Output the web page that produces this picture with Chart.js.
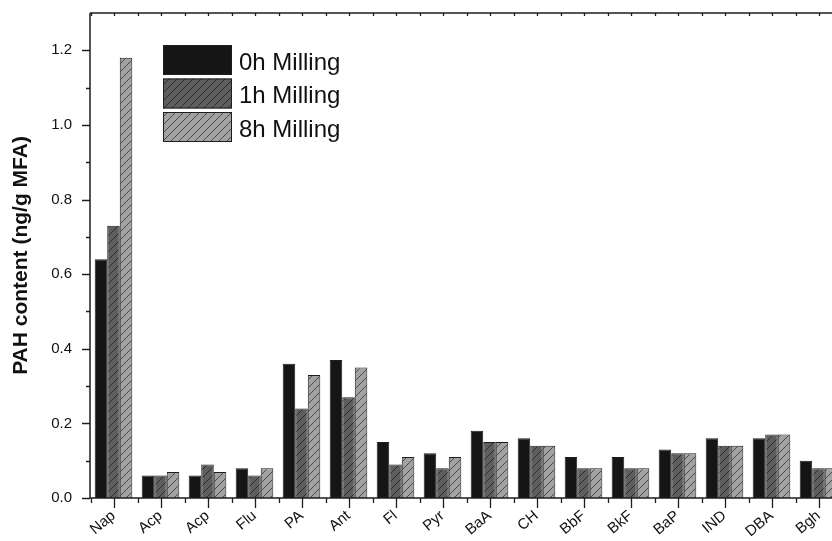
<!DOCTYPE html>
<html lang="en">
<head>
  <meta charset="UTF-8" />
  <title>PAH content after milling</title>
  <script src="https://cdn.jsdelivr.net/npm/chart.js"></script>
  <style>
    html, body {
      margin: 0;
      padding: 0;
      background: #fff;
      overflow: hidden;
    }
    .chart-box {
      width: 860px;
      height: 541px;
    }
  </style>
</head>
<body>
  <div class="chart-box">
    <canvas id="pahChart"></canvas>
  </div>

  <script>
    const categories = ['Nap', 'Acp', 'Acp', 'Flu', 'PA', 'Ant', 'Fl', 'Pyr', 'BaA', 'CH', 'BbF', 'BkF', 'BaP', 'IND', 'DBA', 'Bgh'];
    const milling0h = [0.64, 0.06, 0.06, 0.08, 0.36, 0.37, 0.15, 0.12, 0.18, 0.16, 0.11, 0.11, 0.13, 0.16, 0.16, 0.10];
    const milling1h = [0.73, 0.06, 0.09, 0.06, 0.24, 0.27, 0.09, 0.08, 0.15, 0.14, 0.08, 0.08, 0.12, 0.14, 0.17, 0.08];
    const milling8h = [1.18, 0.07, 0.07, 0.08, 0.33, 0.35, 0.11, 0.11, 0.15, 0.14, 0.08, 0.08, 0.12, 0.14, 0.17, 0.08];
    const seriesNames = ['0h Milling', '1h Milling', '8h Milling'];
    const yTicks = [0.0, 0.2, 0.4, 0.6, 0.8, 1.0, 1.2];
    const yMinorTicks = [0.1, 0.3, 0.5, 0.7, 0.9, 1.1];

    const font = "'Liberation Sans', Arial, sans-serif";
    const edge = '#1e1e1e';

    // diagonal hatch fill, like the origin-style bars
    function hatch(base, line) {
      const c = document.createElement('canvas');
      c.width = 8;
      c.height = 8;
      const g = c.getContext('2d');
      g.fillStyle = base;
      g.fillRect(0, 0, 8, 8);
      g.strokeStyle = line;
      g.lineWidth = 1;
      g.beginPath();
      g.moveTo(-1, 9); g.lineTo(9, -1);
      g.moveTo(-1, 1); g.lineTo(1, -1);
      g.moveTo(7, 9); g.lineTo(9, 7);
      g.stroke();
      return g.createPattern(c, 'repeat');
    }

    const fills = ['#151515', hatch('#5e5e5e', '#2e2e2e'), hatch('#a2a2a2', '#4a4a4a')];

    // plot frame and tick marks
    const framePlugin = {
      id: 'frame',
      afterDraw(chart) {
        const { ctx, chartArea: a, scales } = chart;
        const x = scales.x, y = scales.y;
        const half = (x.getPixelForValue(1) - x.getPixelForValue(0)) / 2;
        ctx.save();
        ctx.strokeStyle = edge;
        ctx.lineWidth = 1.5;
        ctx.beginPath();
        ctx.moveTo(a.left, a.top); ctx.lineTo(a.left, a.bottom);
        ctx.lineTo(a.right, a.bottom);
        ctx.moveTo(a.left, a.top); ctx.lineTo(a.right, a.top);
        ctx.stroke();

        ctx.lineWidth = 1.3;
        ctx.beginPath();
        yTicks.forEach(v => {
          const py = Math.round(y.getPixelForValue(v)) + 0.5;
          ctx.moveTo(a.left - 8, py); ctx.lineTo(a.left, py);
        });
        yMinorTicks.forEach(v => {
          const py = Math.round(y.getPixelForValue(v)) + 0.5;
          ctx.moveTo(a.left - 4, py); ctx.lineTo(a.left, py);
        });
        categories.forEach((c, i) => {
          const px = Math.round(x.getPixelForValue(i)) + 0.5;
          ctx.moveTo(px, a.bottom); ctx.lineTo(px, a.bottom + 10);
          ctx.moveTo(px, a.top); ctx.lineTo(px, a.top + 3);
          const bx = Math.round(px - half) + 0.5;
          ctx.moveTo(bx, a.bottom); ctx.lineTo(bx, a.bottom + 5);
          ctx.moveTo(bx, a.top); ctx.lineTo(bx, a.top + 3);
        });
        ctx.stroke();
        ctx.restore();
      }
    };

    // legend drawn inside the plot area
    const legendPlugin = {
      id: 'insideLegend',
      afterDraw(chart) {
        const { ctx } = chart;
        ctx.save();
        ctx.font = '24px ' + font;
        ctx.textBaseline = 'middle';
        chart.data.datasets.forEach((ds, i) => {
          const top = 45 + i * 33.5;
          ctx.fillStyle = ds.backgroundColor;
          ctx.fillRect(163, top, 69, 30);
          ctx.strokeStyle = edge;
          ctx.lineWidth = 1;
          ctx.strokeRect(163.5, top + 0.5, 68, 29);
          ctx.fillStyle = '#111';
          ctx.fillText(ds.label, 239, top + 18);
        });
        ctx.restore();
      }
    };

    new Chart(document.getElementById('pahChart').getContext('2d'), {
      type: 'bar',
      data: {
        labels: categories,
        datasets: [milling0h, milling1h, milling8h].map((d, i) => ({
          label: seriesNames[i],
          data: d,
          backgroundColor: fills[i],
          borderColor: edge,
          borderWidth: 1,
          borderSkipped: 'bottom'
        }))
      },
      options: {
        responsive: true,
        maintainAspectRatio: false,
        animation: false,
        layout: {
          padding: { top: 13, right: 18, left: 0, bottom: 0 }
        },
        plugins: {
          legend: { display: false },
          tooltip: { enabled: false }
        },
        datasets: {
          bar: { categoryPercentage: 0.8, barPercentage: 1.0 }
        },
        scales: {
          x: {
            grid: { display: false, drawTicks: false },
            border: { display: false },
            ticks: {
              color: '#111',
              font: { family: font, size: 15 },
              minRotation: 40,
              maxRotation: 40,
              padding: 9,
              autoSkip: false
            },
            afterFit(s) { s.height = 43; s.paddingLeft = 0; s.paddingRight = 0; }
          },
          y: {
            min: 0,
            max: 1.3,
            grid: { display: false, drawTicks: false },
            border: { display: false },
            afterBuildTicks(s) { s.ticks = yTicks.map(v => ({ value: v })); },
            ticks: {
              color: '#111',
              font: { family: font, size: 15 },
              padding: 18,
              callback: v => Number(v).toFixed(1)
            },
            title: {
              display: true,
              text: 'PAH content (ng/g MFA)',
              color: '#111',
              font: { family: font, size: 21, weight: 'bold' },
              padding: { top: 9, bottom: 0 }
            },
            afterFit(s) { s.width = 90; s.paddingTop = 0; s.paddingBottom = 0; }
          }
        }
      },
      plugins: [framePlugin, legendPlugin]
    });
  </script>
</body>
</html>
